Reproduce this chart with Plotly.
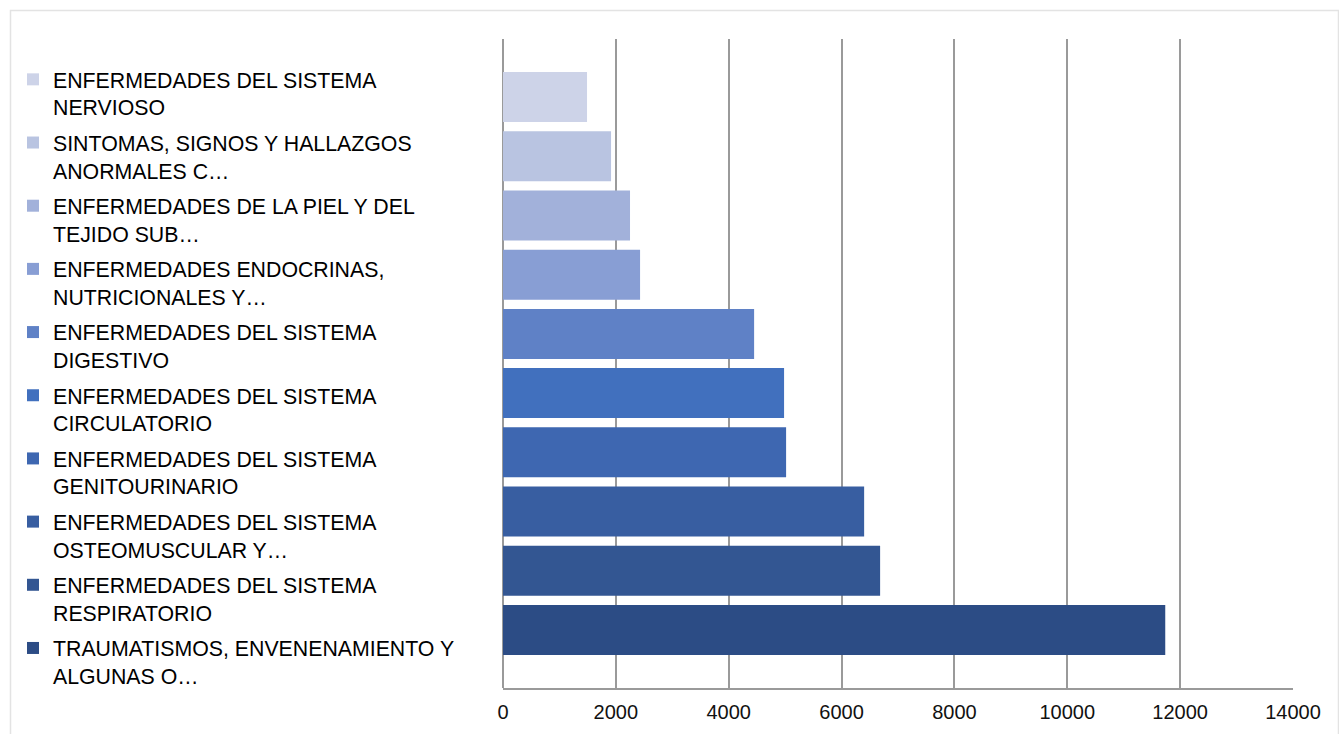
import plotly.graph_objects as go

# Data (top to bottom as displayed)
categories = [
    "ENFERMEDADES DEL SISTEMA<br>NERVIOSO",
    "SINTOMAS, SIGNOS Y HALLAZGOS<br>ANORMALES C…",
    "ENFERMEDADES DE LA PIEL Y DEL<br>TEJIDO SUB…",
    "ENFERMEDADES ENDOCRINAS,<br>NUTRICIONALES Y…",
    "ENFERMEDADES DEL SISTEMA<br>DIGESTIVO",
    "ENFERMEDADES DEL SISTEMA<br>CIRCULATORIO",
    "ENFERMEDADES DEL SISTEMA<br>GENITOURINARIO",
    "ENFERMEDADES DEL SISTEMA<br>OSTEOMUSCULAR Y…",
    "ENFERMEDADES DEL SISTEMA<br>RESPIRATORIO",
    "TRAUMATISMOS, ENVENENAMIENTO Y<br>ALGUNAS O…",
]
values = [1489, 1915, 2251, 2429, 4450, 4981, 5017, 6400, 6683, 11736]
colors = ["#CDD3E8", "#B9C4E1", "#A2B1DA", "#889ED4", "#5F81C6",
          "#4170BE", "#3E67B1", "#385EA1", "#335692", "#2C4C85"]
x_ticks = [0, 2000, 4000, 6000, 8000, 10000, 12000, 14000]

FONT = "Liberation Sans, Arial, sans-serif"

fig = go.Figure()
for i, (cat, val, col) in enumerate(zip(categories, values, colors)):
    fig.add_trace(go.Bar(
        x=[val], y=[cat], orientation="h", name=cat,
        marker=dict(color=col, line=dict(width=0)),
        width=0.844, legendgroup="g%d" % i, showlegend=True,
        hoverinfo="x+name",
    ))

W, H = 1339, 734
L, R, T, B = 503, 46, 39, 46
pw, ph = W - L - R, H - T - B

fig.update_layout(
    width=W, height=H,
    margin=dict(l=L, r=R, t=T, b=B, pad=0, autoexpand=False),
    paper_bgcolor="white", plot_bgcolor="white",
    barmode="overlay",
    font=dict(family=FONT, color="#000000"),
    showlegend=True,
    legend=dict(
        xref="container", yref="container",
        x=13 / W, xanchor="left",
        y=1 - 59 / H, yanchor="top",
        font=dict(family=FONT, size=21.3, color="#000000"),
        valign="top",
        tracegroupgap=4.8,
        traceorder="grouped",
        maxheight=720,
        bgcolor="rgba(0,0,0,0)",
        borderwidth=0,
    ),
    xaxis=dict(
        range=[0, 14000], tickvals=x_ticks, ticktext=[str(v) for v in x_ticks],
        showgrid=True, gridcolor="#9a9a9a", gridwidth=1.5,
        zeroline=True, zerolinecolor="#9a9a9a", zerolinewidth=1.5,
        showline=True, linecolor="#9a9a9a", linewidth=1.5,
        ticks="", tickfont=dict(family=FONT, size=20, color="#111111"),
        ticklabelstandoff=5, automargin=False,
        fixedrange=True,
    ),
    yaxis=dict(
        type="category", categoryorder="array",
        categoryarray=list(reversed(categories)),
        range=[-0.98, len(categories) - 1 + 0.98],
        showticklabels=False, showgrid=False, zeroline=False,
        showline=False, ticks="", fixedrange=True, automargin=False,
    ),
    shapes=[dict(
        type="rect", xref="paper", yref="paper",
        x0=(10.5 - L) / pw, x1=(1338.5 - L) / pw,
        y0=(H - B - 745) / ph, y1=(H - B - 10.5) / ph,
        line=dict(color="#e3e3e3", width=1.5), fillcolor="rgba(0,0,0,0)",
        layer="below",
    )],
)

fig.write_html("out.html")
